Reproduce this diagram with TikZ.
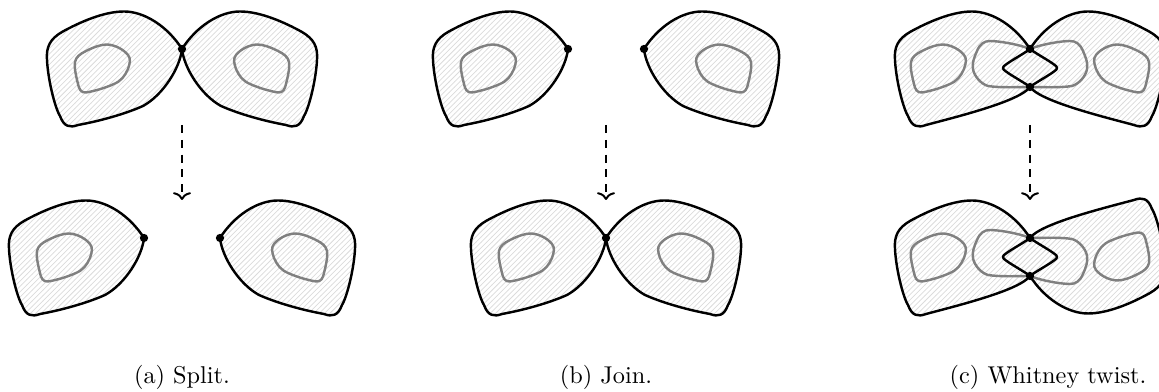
\documentclass[tikz,border=0pt]{standalone}
\usetikzlibrary{patterns,arrows.meta}
\pgfdeclarelayer{hatchlayer}
\pgfdeclarelayer{graylayer}
\pgfsetlayers{hatchlayer,graylayer,main}
\pgfdeclarepatternformonly{finehatch}{\pgfqpoint{-1pt}{-1pt}}{\pgfqpoint{3.2pt}{3.2pt}}{\pgfqpoint{2.2pt}{2.2pt}}{%
  \pgfsetlinewidth{0.3pt}%
  \pgfpathmoveto{\pgfqpoint{0pt}{0pt}}%
  \pgfpathlineto{\pgfqpoint{2.3pt}{2.3pt}}%
  \pgfusepath{stroke}}
\tikzset{
  hatch/.style={pattern=finehatch, pattern color=black!14},
  outline/.style={draw=black, line width=1pt, line join=round, line cap=round},
  holeline/.style={draw=black!50, line width=1pt, line join=round},
  junction/.style={circle, fill=black, inner sep=0pt, minimum size=3.4pt},
  flow/.style={line width=0.8pt, dash pattern=on 3.3pt off 2.8pt, -{To[length=3.2pt,width=7.4pt]}},
  caption/.style={anchor=base, inner sep=0pt}
}
\newcommand\blobAout{(0,0) .. controls (-14,-22) and (-37,-37.5) .. (-58,-37.5)
  .. controls (-78,-37.5) and (-102,-27) .. (-120,-17)
  .. controls (-132,-10) and (-136,-2) .. (-135,11)
  .. controls (-134,31) and (-127,59) .. (-122,67)
  .. controls (-118,78) and (-112,79) .. (-104,76)
  .. controls (-82,72) and (-57,65) .. (-39,57)
  .. controls (-19,46) and (-2,19) .. (0,0) -- cycle}
\newcommand\blobAhole{(-75,-4.5) .. controls (-66,-4) and (-58,1) .. (-54,6)
  .. controls (-51,10) and (-52,14) .. (-54,20)
  .. controls (-57,27) and (-61,32) .. (-68,35)
  .. controls (-77,39) and (-87,42) .. (-96,43.5)
  .. controls (-101,44) and (-103,40) .. (-104,35)
  .. controls (-106,27) and (-108,18) .. (-107,13)
  .. controls (-106,8) and (-102,5) .. (-96,2)
  .. controls (-88,-2) and (-81,-4.5) .. (-75,-4.5) -- cycle}
\newcommand\blobCout{(0,0) .. controls (-14,-22) and (-37,-37.5) .. (-58,-37.5)
  .. controls (-78,-37.5) and (-102,-27) .. (-120,-17)
  .. controls (-132,-10) and (-136,-2) .. (-135,11)
  .. controls (-134,31) and (-127,59) .. (-122,67)
  .. controls (-118,78) and (-112,79) .. (-104,76)
  .. controls (-70,67) and (-10,52) .. (0,38)
  .. controls (5,34) and (18,27) .. (24,22.5)
  .. controls (28,20) and (28,18) .. (24,15.5)
  .. controls (18,11) and (5,4) .. (0,0) -- cycle}
\newcommand\blobCmid{(0,0) .. controls (-12,-5) and (-32,-8) .. (-40,-8)
  .. controls (-46,-8) and (-50,-5) .. (-53,2)
  .. controls (-56,9) and (-58,14) .. (-57,20)
  .. controls (-56,27) and (-49,35) .. (-42,37)
  .. controls (-30,39) and (-10,38) .. (0,38)}
\newcommand\pieceA{%
  \begin{pgfonlayer}{hatchlayer}\path[hatch] \blobAout;\end{pgfonlayer}%
  \begin{pgfonlayer}{graylayer}\draw[holeline] \blobAhole;\end{pgfonlayer}%
  \draw[outline] \blobAout;}
\newcommand\pieceC{%
  \begin{pgfonlayer}{hatchlayer}\path[hatch] \blobCout;\end{pgfonlayer}%
  \begin{pgfonlayer}{graylayer}\draw[holeline, shift={(-12,0)}] \blobAhole;
    \draw[holeline] \blobCmid;\end{pgfonlayer}%
  \draw[outline] \blobCout;}
\begin{document}
\begin{tikzpicture}[x=0.4115pt, y=-0.4115pt]
\useasboundingbox (0,0) rectangle (1159,392);
% (a) split
\begin{scope}[shift={(182,49)}]\pieceA\end{scope}
\begin{scope}[shift={(182,49)}, xscale=-1]\pieceA\end{scope}
\begin{scope}[shift={(144,238)}]\pieceA\end{scope}
\begin{scope}[shift={(220,238)}, xscale=-1]\pieceA\end{scope}
% (b) join
\begin{scope}[shift={(568,49)}]\pieceA\end{scope}
\begin{scope}[shift={(644,49)}, xscale=-1]\pieceA\end{scope}
\begin{scope}[shift={(606,238)}]\pieceA\end{scope}
\begin{scope}[shift={(606,238)}, xscale=-1]\pieceA\end{scope}
% (c) Whitney twist
\begin{scope}[shift={(1030,49)}]\pieceC\end{scope}
\begin{scope}[shift={(1030,49)}, xscale=-1]\pieceC\end{scope}
\begin{scope}[shift={(1030,238)}]\pieceC\end{scope}
\begin{scope}[shift={(1030,276)}, xscale=-1, yscale=-1]\pieceC\end{scope}
% junction points
\node[junction] (aT)  at (182,49) {};
\node[junction] (aBL) at (144,238) {};
\node[junction] (aBR) at (220,238) {};
\node[junction] (bTL) at (568,49) {};
\node[junction] (bTR) at (644,49) {};
\node[junction] (bB)  at (606,238) {};
\node[junction] (cT1) at (1030,49) {};
\node[junction] (cT2) at (1030,87) {};
\node[junction] (cB1) at (1030,238) {};
\node[junction] (cB2) at (1030,276) {};
% arrows
\coordinate (aS) at (182,125); \coordinate (aE) at (182,200);
\coordinate (bS) at (606,125); \coordinate (bE) at (606,200);
\coordinate (cS) at (1030,125); \coordinate (cE) at (1030,200);
\draw[flow] (aS) -- (aE);
\draw[flow] (bS) -- (bE);
\draw[flow] (cS) -- (cE);
% captions
\node[caption] (capa) at (182,384) {(a) Split.};
\node[caption] (capb) at (606,384) {(b) Join.};
\node[caption] (capc) at (1048,384) {(c) Whitney twist.};
\end{tikzpicture}
\end{document}
